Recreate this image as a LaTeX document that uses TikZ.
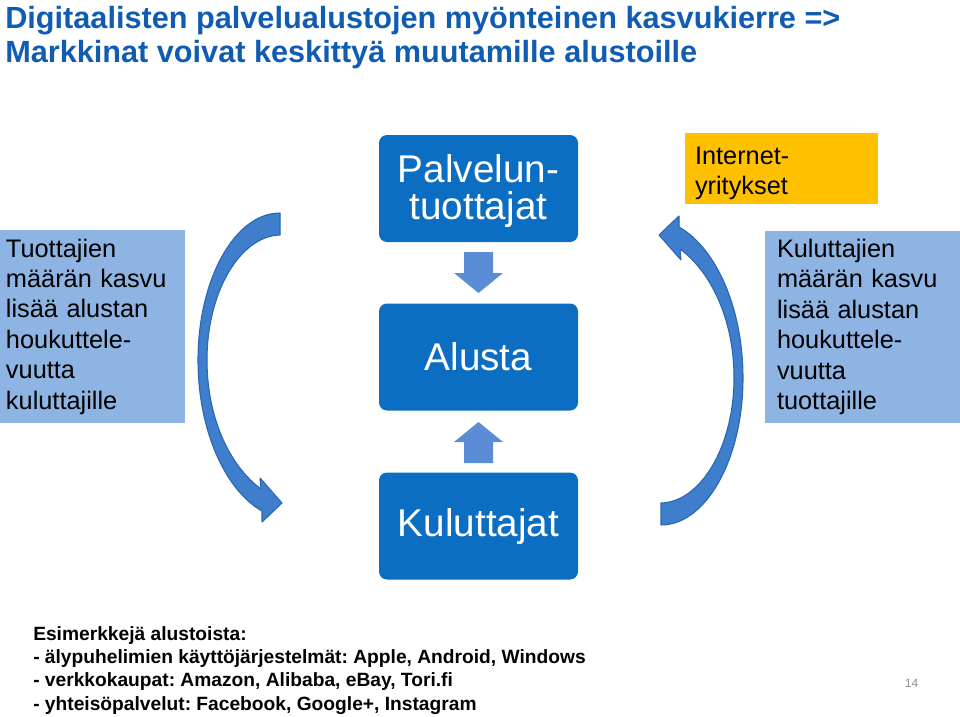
\documentclass[tikz,border=0pt]{standalone}
\usepackage{fontspec}
\setmainfont{Liberation Sans}
\frenchspacing
\definecolor{boxblue}{RGB}{12,110,194}
\definecolor{sideblue}{RGB}{141,180,226}
\definecolor{arrowblue}{RGB}{90,141,214}
\definecolor{curveblue}{RGB}{62,126,205}
\definecolor{curveedge}{RGB}{40,102,180}
\definecolor{ambergold}{RGB}{255,192,0}
\definecolor{titleblue}{RGB}{15,92,178}
\definecolor{pagegray}{RGB}{140,140,140}
\begin{document}
\begin{tikzpicture}[x=0.75pt,y=-0.75pt,
  darkbox/.style={fill=boxblue, rounded corners=6pt, minimum width=199*0.75pt,
    minimum height=107*0.75pt, text=white, align=center, inner sep=0pt,
    font=\fontsize{29}{27.75}\selectfont},
  sidebox/.style={fill=sideblue, align=left, inner ysep=0pt,
    font=\fontsize{19}{22.8}\selectfont},
  blockarrow/.style={fill=arrowblue},
  curvearrow/.style={fill=curveblue, draw=curveedge, line width=0.8pt, line join=round}
]
\useasboundingbox (0,0) rectangle (960,717);

% title
\node[anchor=north west, inner sep=0pt, align=left, text=titleblue,
  font=\fontsize{23}{25.5}\selectfont\bfseries] (title) at (5,6)
  {Digitaalisten palvelualustojen myönteinen kasvukierre =>\\
   Markkinat voivat keskittyä muutamille alustoille};

% central boxes
\node[darkbox] (prod) at (478.5,188.5) {\rule{0pt}{25.5pt}Palvelun-\\tuottajat};
\node[darkbox] (plat) at (478.5,357) {Alusta};
\node[darkbox] (cons) at (478.5,526) {Kuluttajat};

% side boxes
\node[sidebox, minimum width=185*0.75pt, minimum height=193*0.75pt,
  inner xsep=6*0.75pt, text width=173*0.75pt] (left) at (92.5,326.5)
  {Tuottajien\\määrän kasvu\\lisää alustan\\houkuttele-\\vuutta\\kuluttajille};
\node[sidebox, minimum width=195*0.75pt, minimum height=192*0.75pt,
  inner xsep=12*0.75pt, text width=171*0.75pt] (right) at (862.5,327)
  {Kuluttajien\\määrän kasvu\\lisää alustan\\houkuttele-\\vuutta\\tuottajille};
\node[sidebox, fill=ambergold, minimum width=193*0.75pt, minimum height=71*0.75pt,
  inner xsep=10*0.75pt, text width=173*0.75pt] (inet) at (781.5,168.5)
  {\rule{0pt}{20pt}Internet-\\yritykset};

% block arrows
\fill[blockarrow] (464,252) -- (493,252) -- (493,273) -- (503,273) -- (478.5,293)
  -- (454,273) -- (464,273) -- cycle;
\fill[blockarrow] (464,463) -- (493,463) -- (493,442) -- (503,442) -- (478.5,422)
  -- (454,442) -- (464,442) -- cycle;

% curved arrows
\draw[curvearrow] (280,213) .. controls (235,213) and (198,279) .. (198,360)
  .. controls (198,430) and (225,490) .. (262,511) -- (262,522) -- (282,503)
  -- (260,478) -- (261,489) .. controls (231,467) and (207,420) .. (207,360)
  .. controls (207,292) and (240,236) .. (280,235) -- cycle;
\draw[curvearrow, rotate around={180:(470.5,369)}] (280,213) .. controls (235,213) and (198,279) .. (198,360)
  .. controls (198,430) and (225,490) .. (262,511) -- (262,522) -- (282,503)
  -- (260,478) -- (261,489) .. controls (231,467) and (207,420) .. (207,360)
  .. controls (207,292) and (240,236) .. (280,235) -- cycle;

% examples
\node[anchor=north west, inner sep=0pt, align=left,
  font=\fontsize{14.4}{17.5}\selectfont\bfseries] (ex) at (33,626)
  {Esimerkkejä alustoista:\\
   - älypuhelimien käyttöjärjestelmät: Apple, Android, Windows\\
   - verkkokaupat: Amazon, Alibaba, eBay, Tori.fi\\
   - yhteisöpalvelut: Facebook, Google+, Instagram};

\node[text=pagegray, font=\fontsize{9}{10}\selectfont, inner sep=0pt] (page) at (911.5,683) {14};
\end{tikzpicture}
\end{document}
